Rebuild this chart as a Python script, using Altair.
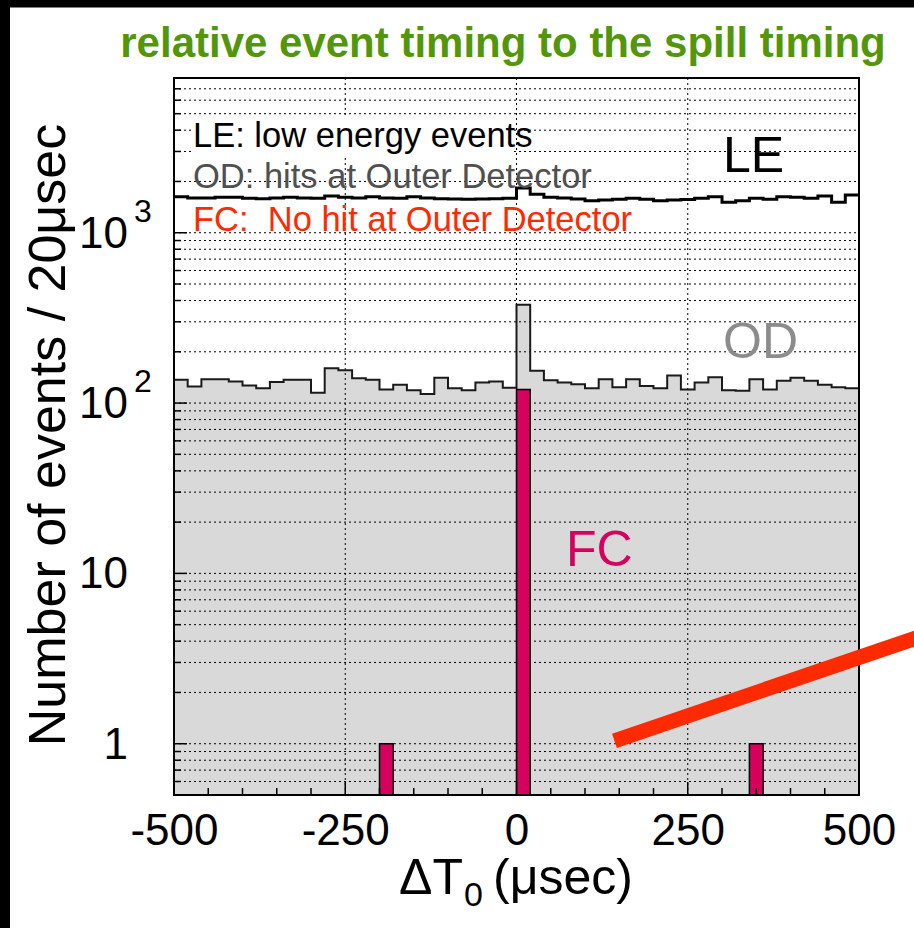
import altair as alt
import pandas as pd

# ---------------- data ----------------
TITLE = "relative event timing to the spill timing"
BIN_START = -500
BIN_WIDTH = 20
LE_COUNTS = [1627, 1600, 1600, 1614, 1614, 1592, 1585, 1600, 1614, 1600,
             1592, 1643, 1614, 1600, 1627, 1600, 1592, 1627, 1600, 1585,
             1578, 1571, 1578, 1585, 1592, 1830, 1685, 1614, 1600, 1578,
             1542, 1556, 1571, 1592, 1571, 1542, 1556, 1565, 1592, 1627,
             1509, 1542, 1592, 1571, 1627, 1614, 1592, 1643, 1509, 1665]
OD_COUNTS = [137, 125, 138, 138, 134, 127, 122, 133, 137, 137,
             115, 160, 156, 140, 137, 120, 128, 119, 113, 141,
             122, 119, 132, 134, 123, 378, 155, 136, 132, 129,
             122, 138, 124, 138, 126, 122, 145, 120, 132, 142,
             119, 118, 138, 120, 135, 141, 135, 128, 124, 122]
FC_COUNTS = [0, 0, 0, 0, 0, 0, 0, 0, 0, 0,
             0, 0, 0, 0, 0, 1, 0, 0, 0, 0,
             0, 0, 0, 0, 0, 120, 0, 0, 0, 0,
             0, 0, 0, 0, 0, 0, 0, 0, 0, 0,
             0, 0, 1, 0, 0, 0, 0, 0, 0, 0]
X_LABELS = [-500, -250, 0, 250, 500]
X_DOMAIN = [-500, 500]
Y_DOMAIN = [0.5, 8100]
Y_LABEL_VALUES = [1, 10, 100, 1000]
Y_LABEL_BASE = ["1", "10", "10", "10"]
Y_LABEL_EXP = ["", "", "2", "3"]
RED_LINE_X = [143, 600]
RED_LINE_Y = [1.04, 4.4]

W, H = 685, 717
FONT = "Liberation Sans"

# ---------------- tables ----------------
n = len(OD_COUNTS)
edges = [BIN_START + BIN_WIDTH * i for i in range(n + 1)]
step_df = pd.DataFrame({
    "x": edges,
    "od": OD_COUNTS + [OD_COUNTS[-1]],
    "le": LE_COUNTS + [LE_COUNTS[-1]],
    "base": Y_DOMAIN[0],
})
fc_df = pd.DataFrame([
    {"x0": BIN_START + BIN_WIDTH * i, "x1": BIN_START + BIN_WIDTH * (i + 1),
     "y": c, "base": Y_DOMAIN[0]}
    for i, c in enumerate(FC_COUNTS) if c > 0
])
grid_vals = [m * 10 ** e for e in range(-1, 4) for m in range(1, 10)
             if Y_DOMAIN[0] < m * 10 ** e < 7500]
gy_df = pd.DataFrame({"v": grid_vals})
ymajor_df = pd.DataFrame({"v": [v for v in grid_vals if v in Y_LABEL_VALUES]})
yminor_df = pd.DataFrame({"v": [v for v in grid_vals if v not in Y_LABEL_VALUES]})
gx_df = pd.DataFrame({"v": X_LABELS[1:-1]})
xt = list(range(X_DOMAIN[0] + 50, X_DOMAIN[1], 50))
xmajor_df = pd.DataFrame({"v": [v for v in xt if v in X_LABELS]})
xminor_df = pd.DataFrame({"v": [v for v in xt if v not in X_LABELS]})
ylab_df = pd.DataFrame({"v": Y_LABEL_VALUES, "b": Y_LABEL_BASE, "e": Y_LABEL_EXP})
red_df = pd.DataFrame({"x": [RED_LINE_X[0]], "x2": [RED_LINE_X[1]],
                       "y": [RED_LINE_Y[0]], "y2": [RED_LINE_Y[1]]})
one = pd.DataFrame({"a": [0]})

xs = alt.Scale(domain=X_DOMAIN, nice=False, zero=False)
ys = alt.Scale(type="log", domain=Y_DOMAIN, nice=False)
x_axis = alt.Axis(values=X_LABELS, labelExpr="'' + datum.value", ticks=False,
                  domain=False, grid=False, labelFontSize=44, labelFont=FONT,
                  labelColor="black", labelPadding=49, labelBaseline="alphabetic",
                  title=None, labelFlush=False, labelOverlap=False)


def X(f):
    return alt.X(f, type="quantitative", scale=xs, axis=x_axis)


def Y(f):
    return alt.Y(f, type="quantitative", scale=ys, axis=None)


def text(t, x, y, size, color, align="left", weight="normal", angle=0, baseline="alphabetic"):
    return alt.Chart(one).mark_text(
        text=t, font=FONT, fontSize=size, color=color, align=align,
        fontWeight=weight, angle=angle, baseline=baseline,
    ).encode(x=alt.value(x), y=alt.value(y))


dot = dict(stroke="black", strokeWidth=1, strokeDash=[2, 3])

od_area = alt.Chart(step_df).mark_area(interpolate="step-after", color="#d9d9d9").encode(
    x=X("x"), y=Y("od"), y2="base:Q")
grid_y = alt.Chart(gy_df).mark_rule(**dot).encode(
    y=Y("v"), x=alt.value(0), x2=alt.value(W))
grid_x = alt.Chart(gx_df).mark_rule(**dot).encode(
    x=X("v"), y=alt.value(0), y2=alt.value(H))
od_line = alt.Chart(step_df).mark_line(interpolate="step-after", color="#1a1a1a",
                                       strokeWidth=2).encode(x=X("x"), y=Y("od"))
le_line = alt.Chart(step_df).mark_line(interpolate="step-after", color="black",
                                       strokeWidth=3).encode(x=X("x"), y=Y("le"))

t_od = text("OD: hits at Outer Detector", 19, 110.3, 34.5, "#505050")
t_fc = text("FC:\u00a0 No hit at Outer Detector", 19, 153, 34.5, "#ff2a00")
big_le = text("LE", 549, 93.5, 50, "black")
big_od = text("OD", 549, 280, 50, "#8c8c8c")
big_fc = text("FC", 392, 488, 50, "#d6005f")

white_box = alt.Chart(one).mark_rect(color="white").encode(
    x=alt.value(17), x2=alt.value(338), y=alt.value(39), y2=alt.value(77))
t_le = text("LE: low energy events", 19, 68.5, 34.5, "black")

fc_bars = alt.Chart(fc_df).mark_rect(color="#d6005f", stroke="black", strokeWidth=1.5).encode(
    x=X("x0"), x2="x1:Q", y=Y("y"), y2="base:Q")

tick = dict(stroke="black", strokeWidth=1.5)
xt_major = alt.Chart(xmajor_df).mark_rule(**tick).encode(x=X("v"), y=alt.value(H), y2=alt.value(H - 13))
xt_minor = alt.Chart(xminor_df).mark_rule(**tick).encode(x=X("v"), y=alt.value(H), y2=alt.value(H - 7))
yt_major = alt.Chart(ymajor_df).mark_rule(**tick).encode(y=Y("v"), x=alt.value(0), x2=alt.value(13))
yt_minor = alt.Chart(yminor_df).mark_rule(**tick).encode(y=Y("v"), x=alt.value(0), x2=alt.value(7))

frame = alt.Chart(one).mark_rect(filled=False, stroke="black", strokeWidth=2).encode(
    x=alt.value(0), x2=alt.value(W), y=alt.value(0), y2=alt.value(H))

red = alt.Chart(red_df).mark_rule(color="#ff2a00", strokeWidth=15, strokeCap="butt", clip=False).encode(
    x=X("x"), x2="x2:Q", y=Y("y"), y2="y2:Q")

ylab = alt.Chart(ylab_df).mark_text(font=FONT, fontSize=44, color="black", align="right",
                                    baseline="middle", dy=2).encode(
    y=Y("v"), x=alt.value(-46), text="b:N")
yexp = alt.Chart(ylab_df).transform_filter("datum.e != ''").mark_text(
    font=FONT, fontSize=32, color="black", align="left", baseline="middle", dy=-21).encode(
    y=Y("v"), x=alt.value(-40), text="e:N")

ytitle = text("Number of events / 20\u03bcsec", -125, 357, 52, "black",
              align="center", angle=270, baseline="middle")
xt1 = text("\u0394T", 289, 816, 50, "black", align="right")
xt2 = text("0", 290, 828, 34, "black", align="left")
xt3 = text("(\u03bcsec)", 319, 816, 50, "black", align="left")

title = text(TITLE, 329, -21, 42, "#53960a", align="center", weight="bold")

band_top = alt.Chart(one).mark_rect(color="black").encode(
    x=alt.value(-174), x2=alt.value(760), y=alt.value(-78), y2=alt.value(-70.5))
band_left = alt.Chart(one).mark_rect(color="black").encode(
    x=alt.value(-174), x2=alt.value(-164), y=alt.value(-78), y2=alt.value(870))

chart = alt.layer(
    od_area, grid_y, grid_x, od_line, le_line,
    t_od, t_fc, big_le, big_od, big_fc,
    white_box, t_le, fc_bars,
    xt_major, xt_minor, yt_major, yt_minor, frame, red,
    ylab, yexp, ytitle, xt1, xt2, xt3, title, band_top, band_left,
).properties(
    width=W, height=H,
    padding={"left": 174, "top": 78, "right": 55, "bottom": 133},
    autosize=alt.AutoSizeParams(type="none"),
    background="white",
).configure_view(strokeWidth=0)

chart.save("out.html", embed_options={"renderer": "svg", "actions": False})
